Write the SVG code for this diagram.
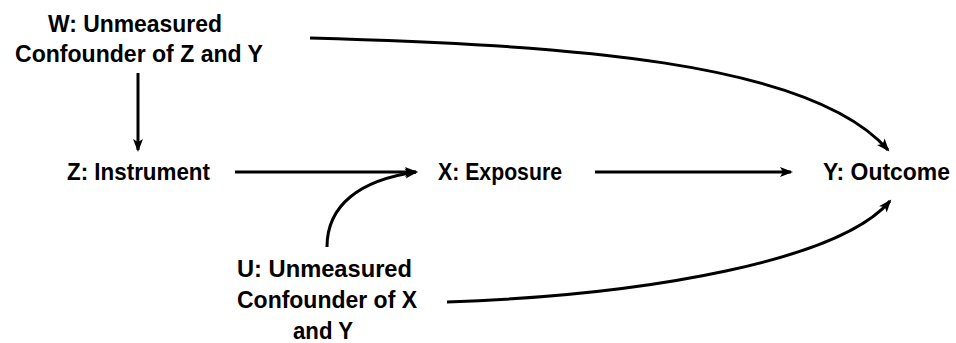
<svg xmlns="http://www.w3.org/2000/svg" width="956" height="343" viewBox="0 0 956 343">
<style>
text{font-family:"Liberation Sans",Arial,sans-serif;font-weight:bold;font-size:24px;fill:#000}
.c{fill:none;stroke:#000;stroke-width:3;marker-end:url(#ah)}
</style>
<defs>
<marker id="ah" markerUnits="userSpaceOnUse" markerWidth="14" markerHeight="12" refX="11" refY="5" orient="auto" overflow="visible">
<path d="M0,0 L13,5 L0,10 L3,5 z" fill="#000"/>
</marker>
</defs>
<rect width="956" height="343" fill="#fff"/>
<g id="W">
<text x="48" y="32" textLength="174" lengthAdjust="spacingAndGlyphs">W: Unmeasured</text>
<text x="15" y="62" textLength="248" lengthAdjust="spacingAndGlyphs">Confounder of Z and Y</text>
</g>
<g id="Z">
<text x="67" y="180" textLength="143" lengthAdjust="spacingAndGlyphs">Z: Instrument</text>
</g>
<g id="X">
<text x="438" y="180" textLength="124" lengthAdjust="spacingAndGlyphs">X: Exposure</text>
</g>
<g id="Y">
<text x="823" y="180" textLength="127" lengthAdjust="spacingAndGlyphs">Y: Outcome</text>
</g>
<g id="U">
<text x="237" y="277" textLength="175" lengthAdjust="spacingAndGlyphs">U: Unmeasured</text>
<text x="237" y="308" textLength="180" lengthAdjust="spacingAndGlyphs">Confounder of X</text>
<text x="293" y="339" textLength="60" lengthAdjust="spacingAndGlyphs">and Y</text>
</g>
<g id="connectors">
<path class="c" d="M138,73 L138,150"/>
<path class="c" d="M235,172 L416,172"/>
<path class="c" d="M595,172 L791,172"/>
<path class="c" d="M310,38 C560,45 810,60 888,150"/>
<path class="c" d="M327,247 C327,205 360,180 416,172"/>
<path class="c" d="M447,302 C650,295 840,260 890,201"/>
</g>
</svg>
